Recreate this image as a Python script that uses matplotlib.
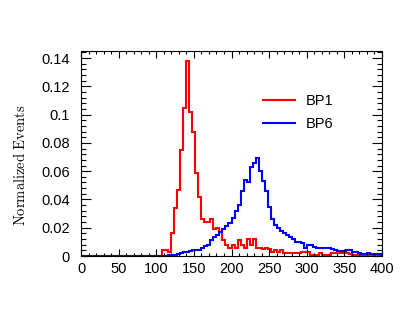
import numpy as np
import matplotlib
matplotlib.use('Agg')
import matplotlib.pyplot as plt
from matplotlib.ticker import MultipleLocator, FixedLocator

### Histogram data (4 GeV bins over 0-400)
bin_width = 4
x_max = 400

# BP1: first non-empty bin starts at 108
bp1_start = 108
bp1 = [0.004, 0.004, 0.003, 0.016, 0.034, 0.047, 0.075, 0.105, 0.138, 0.102,
       0.088, 0.059, 0.042, 0.026, 0.024, 0.024, 0.026, 0.019, 0.020, 0.017,
       0.011, 0.008, 0.006, 0.008, 0.006, 0.011, 0.008, 0.006, 0.012, 0.008,
       0.012, 0.006, 0.006, 0.005, 0.006, 0.005, 0.003, 0.004, 0.003, 0.004,
       0.002, 0.002, 0.002, 0.002, 0.002, 0.002, 0.003, 0.003, 0.003, 0.0005,
       0.0005, 0.0005, 0.002, 0.0005, 0.0005, 0.0005, 0.002, 0.002, 0.002, 0.002,
       0.002, 0.002, 0.0015, 0.0005, 0.0005, 0.001, 0.0005, 0.0005, 0.0005, 0.0005,
       0.0005, 0.0005, 0.0005]

# BP6: first non-empty bin starts at 100
bp6_start = 100
bp6 = [0.0002, 0.0002, 0.0003, 0.0003, 0.0005, 0.0008, 0.001, 0.0015, 0.002, 0.0025,
       0.003, 0.0035, 0.004, 0.0045, 0.0045, 0.006, 0.007, 0.008, 0.011, 0.0133,
       0.015, 0.017, 0.019, 0.021, 0.0236, 0.027, 0.032, 0.036, 0.046, 0.054,
       0.052, 0.063, 0.066, 0.0695, 0.060, 0.053, 0.046, 0.035, 0.026, 0.022,
       0.0195, 0.018, 0.016, 0.015, 0.0133, 0.012, 0.0102, 0.0098, 0.0095, 0.0055,
       0.008, 0.0075, 0.0064, 0.0058, 0.0055, 0.0058, 0.0055, 0.0055, 0.005, 0.0043,
       0.0036, 0.0036, 0.0036, 0.0043, 0.004, 0.003, 0.0025, 0.002, 0.0017, 0.0017,
       0.002, 0.0017, 0.0017, 0.0017, 0.0017]

labels = ['BP1', 'BP6']
colors = ['#ff0000', '#0000ff']
y_ticks = [0, 0.02, 0.04, 0.06, 0.08, 0.1, 0.12, 0.14]


def full_hist(values, start):
    '''Puts the non-empty bins into a 0-400 histogram'''
    edges = np.arange(0, x_max + bin_width, bin_width)
    counts = np.zeros(len(edges) - 1)
    i0 = start // bin_width
    counts[i0:i0 + len(values)] = values
    return edges, counts


plt.rcParams['font.family'] = ['Liberation Sans', 'DejaVu Sans']
plt.rcParams['mathtext.fontset'] = 'cm'

fig = plt.figure(figsize=(4.09, 3.23), dpi=100)
ax = fig.add_axes([81 / 409, 67 / 323, 301 / 409, 205 / 323])

for vals, start, lab, col in zip([bp1, bp6], [bp1_start, bp6_start], labels, colors):
    edges, counts = full_hist(vals, start)
    ax.stairs(counts, edges, color=col, linewidth=1.5, label=lab)

ax.set_xlim(0, x_max)
ax.set_ylim(0, 0.145)

ax.xaxis.set_major_locator(MultipleLocator(50))
ax.xaxis.set_minor_locator(MultipleLocator(10))
ax.yaxis.set_major_locator(FixedLocator(y_ticks))
ax.yaxis.set_minor_locator(MultipleLocator(0.004))
ax.set_yticklabels(['%g' % t for t in y_ticks])

ax.tick_params(axis='both', which='both', direction='in', top=True, right=True,
               labelsize=10.5, width=0.8)
ax.tick_params(axis='x', which='major', length=5, pad=4)
ax.tick_params(axis='x', which='minor', length=2.5)
ax.tick_params(axis='y', which='major', length=7, pad=8)
ax.tick_params(axis='y', which='minor', length=3.5)
for s in ax.spines.values():
    s.set_linewidth(0.8)

fig.text(20 / 409, 1 - 165 / 323, r'$\mathrm{Normalized\ Events}$', rotation=90,
         ha='center', va='center', fontsize=10.5)

ax.legend(loc='upper left', bbox_to_anchor=(263 / 409, 1 - 94 / 323),
          bbox_transform=fig.transFigure, frameon=False, fontsize=10.5,
          handlelength=2.2, handletextpad=0.75, labelspacing=0.6,
          borderpad=0, borderaxespad=0)

fig.savefig('out.png', dpi=100)
